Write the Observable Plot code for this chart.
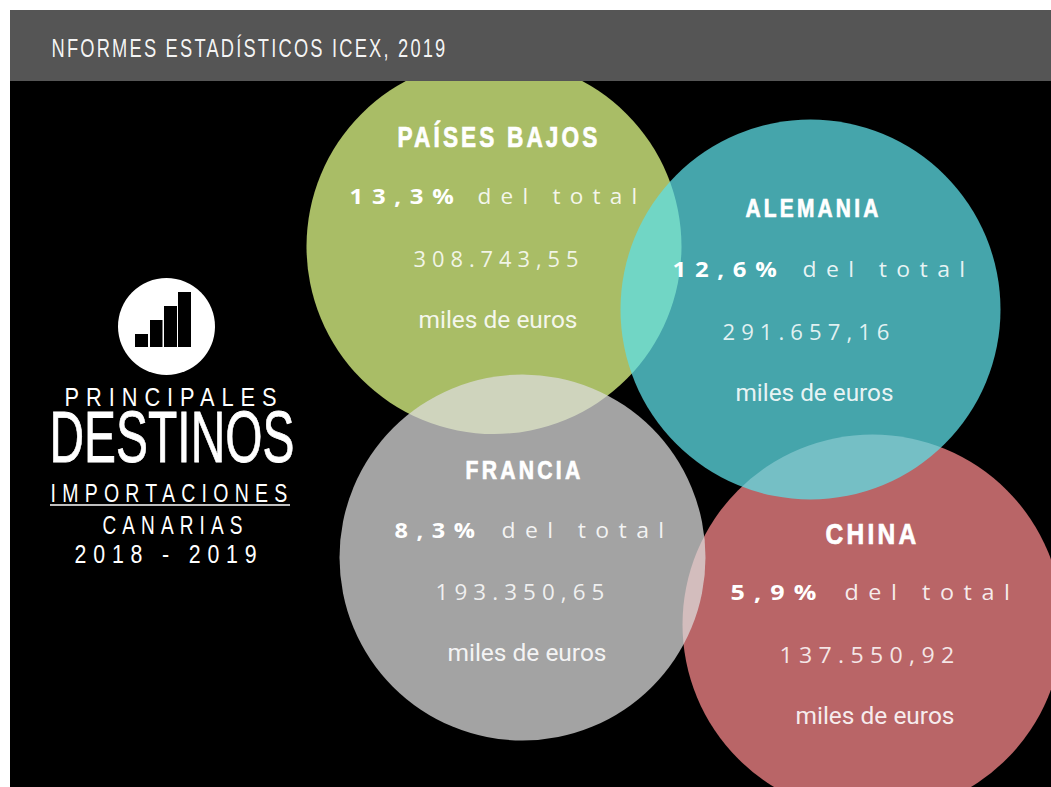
<!DOCTYPE html>
<html lang="es">
<head>
<meta charset="utf-8">
<style>
html,body{margin:0;padding:0;background:#fff}
svg{display:block}
.hdr text{font-family:"Liberation Sans",sans-serif;letter-spacing:3px}
.name text{font-family:"Liberation Sans",sans-serif;font-weight:700;letter-spacing:4px;stroke:#fff;stroke-width:.7px}
.pct text{font-family:"Open Sans",sans-serif;font-weight:700;letter-spacing:8px}
.tot text{font-family:"Open Sans",sans-serif;letter-spacing:9px}
.amt text{font-family:"Open Sans",sans-serif;letter-spacing:6px}
.unit text{font-family:"Roboto",sans-serif}
.side1 text{font-family:"Liberation Sans",sans-serif;letter-spacing:8px}
.side2 text{font-family:"Liberation Sans",sans-serif;letter-spacing:0;stroke:#fff;stroke-width:.8px}
</style>
<script src="https://cdn.jsdelivr.net/npm/d3@7"></script>
<script src="https://cdn.jsdelivr.net/npm/@observablehq/plot@0.6"></script>
</head>
<body>
<div id="chart"></div>
<script>
// Chart values
const countries = ["PAÍSES BAJOS", "ALEMANIA", "FRANCIA", "CHINA"];
const shares = ["13,3%", "12,6%", "8,3%", "5,9%"];
const amounts = ["308.743,55", "291.657,16", "193.350,65", "137.550,92"];
const iconBars = [1, 2, 3, 4];
const headerText = "NFORMES ESTADÍSTICOS ICEX, 2019";
const unitText = "miles de euros";
const totalText = "del total";
const sideLines = ["PRINCIPALES", "DESTINOS", "IMPORTACIONES", "CANARIAS", "2018 - 2019"];

// Layout of the bubbles and their labels (page pixels; the scales are 1:1)
const W = 1051, H = 787;
const bubbleLayout = [
  {i: 3, cx: 872, cy: 624, r: 190, fill: "rgb(250,136,139)"},
  {i: 0, cx: 493.5, cy: 246, r: 187.5, fill: "rgb(228,255,138)"},
  {i: 2, cx: 522, cy: 557, r: 183, fill: "rgb(220,220,220)"},
  {i: 1, cx: 810, cy: 309, r: 190, fill: "rgb(93,223,231)"}
];
const labelLayout = [
  {i: 0, nx: 397, nw: 203, ny: 146, ns: 29, px: 349, pw: 113, tx: 477, tw: 169, y1: 203, ax: 413, aw: 171, y2: 266, ux: 418, uw: 159, y3: 327},
  {i: 1, nx: 745, nw: 136, ny: 216, ns: 26, px: 672, pw: 113, tx: 802, tw: 172, y1: 276, ax: 722, aw: 173, y2: 339, ux: 735, uw: 158, y3: 400},
  {i: 2, nx: 465, nw: 118, ny: 478, ns: 26, px: 394, pw: 89, tx: 501, tw: 172, y1: 537, ax: 435, aw: 175, y2: 599, ux: 447, uw: 159, y3: 660},
  {i: 3, nx: 825, nw: 94, ny: 543, ns: 30, px: 730, pw: 95, tx: 844, tw: 175, y1: 599, ax: 779, aw: 181, y2: 662, ux: 795, uw: 159, y3: 723}
];
const iconLayout = [[135,148,334],[150,162.5,320],[164,177,306],[178,191,292]];
const sideLayout = [
  {i: 0, x: 64, w: 219, y: 405, s: 25, cls: "side1"},
  {i: 1, x: 49, w: 245, y: 461, s: 73, cls: "side2"},
  {i: 2, x: 50, w: 243, y: 501, s: 25, cls: "side1"},
  {i: 3, x: 102, w: 146, y: 533, s: 25, cls: "side1"},
  {i: 4, x: 74, w: 189, y: 562, s: 25, cls: "side1"}
];

const text = (rows, o) => Plot.text(rows, {fill: "#fff", lineAnchor: "bottom", textAnchor: "start", ...o});

const chart = Plot.plot({
  width: W, height: H, margin: 0,
  style: {background: "#fff"},
  x: {domain: [0, W], range: [0, W], axis: null},
  y: {domain: [0, H], range: [0, H], axis: null},
  r: {type: "identity"},
  marks: [
    Plot.rect([0], {x1: 10, x2: W, y1: 10, y2: H, fill: "#000"}),
    Plot.dot(bubbleLayout, {x: "cx", y: "cy", r: "r", fill: "fill", fillOpacity: 0.74, stroke: "none", sort: null}),
    Plot.rect([0], {x1: 10, x2: W, y1: 10, y2: 81, fill: "#555"}),
    text([headerText], {text: d => d, x: 51, y: 56, fontSize: 25, fillOpacity: 0.95, className: "hdr"}),

    Plot.dot([0], {x: 166, y: 326, r: 48.5, fill: "#fff", stroke: "none"}),
    Plot.rect(iconBars, {x1: d => iconLayout[d-1][0], x2: d => iconLayout[d-1][1], y1: d => iconLayout[d-1][2], y2: 347, fill: "#000"}),
    ...sideLayout.map(s => text([sideLines[s.i]], {text: d => d, x: s.x, y: s.y, fontSize: s.s, className: s.cls})),
    Plot.ruleY([504.5], {x1: 50, x2: 290, stroke: "#fff", strokeWidth: 1.5}),

    ...labelLayout.map(l => text([countries[l.i]], {text: d => d, x: l.nx, y: l.ny, fontSize: l.ns, className: "name"})),
    text(labelLayout, {text: d => shares[d.i], x: "px", y: "y1", fontSize: 22, className: "pct"}),
    text(labelLayout, {text: () => totalText, x: "tx", y: "y1", fontSize: 22, fillOpacity: 0.88, className: "tot"}),
    text(labelLayout, {text: d => amounts[d.i], x: "ax", y: "y2", fontSize: 22, fillOpacity: 0.85, className: "amt"}),
    text(labelLayout, {text: () => unitText, x: "ux", y: "y3", fontSize: 23, fillOpacity: 0.9, className: "unit"})
  ]
});

// Fit each text to the width it has in the picture
const fit = (sel, widths) => d3.select(chart).selectAll(sel)
  .attr("textLength", (d, i) => widths[i]).attr("lengthAdjust", "spacingAndGlyphs");
fit(".hdr text", [396]);
fit(".name text", labelLayout.map(l => l.nw));
fit(".pct text", labelLayout.map(l => l.pw));
fit(".tot text", labelLayout.map(l => l.tw));
fit(".amt text", labelLayout.map(l => l.aw));
fit(".unit text", labelLayout.map(l => l.uw));
fit(".side1 text", sideLayout.filter(s => s.cls === "side1").map(s => s.w));
fit(".side2 text", sideLayout.filter(s => s.cls === "side2").map(s => s.w));

document.getElementById("chart").append(chart);
</script>
</body>
</html>
